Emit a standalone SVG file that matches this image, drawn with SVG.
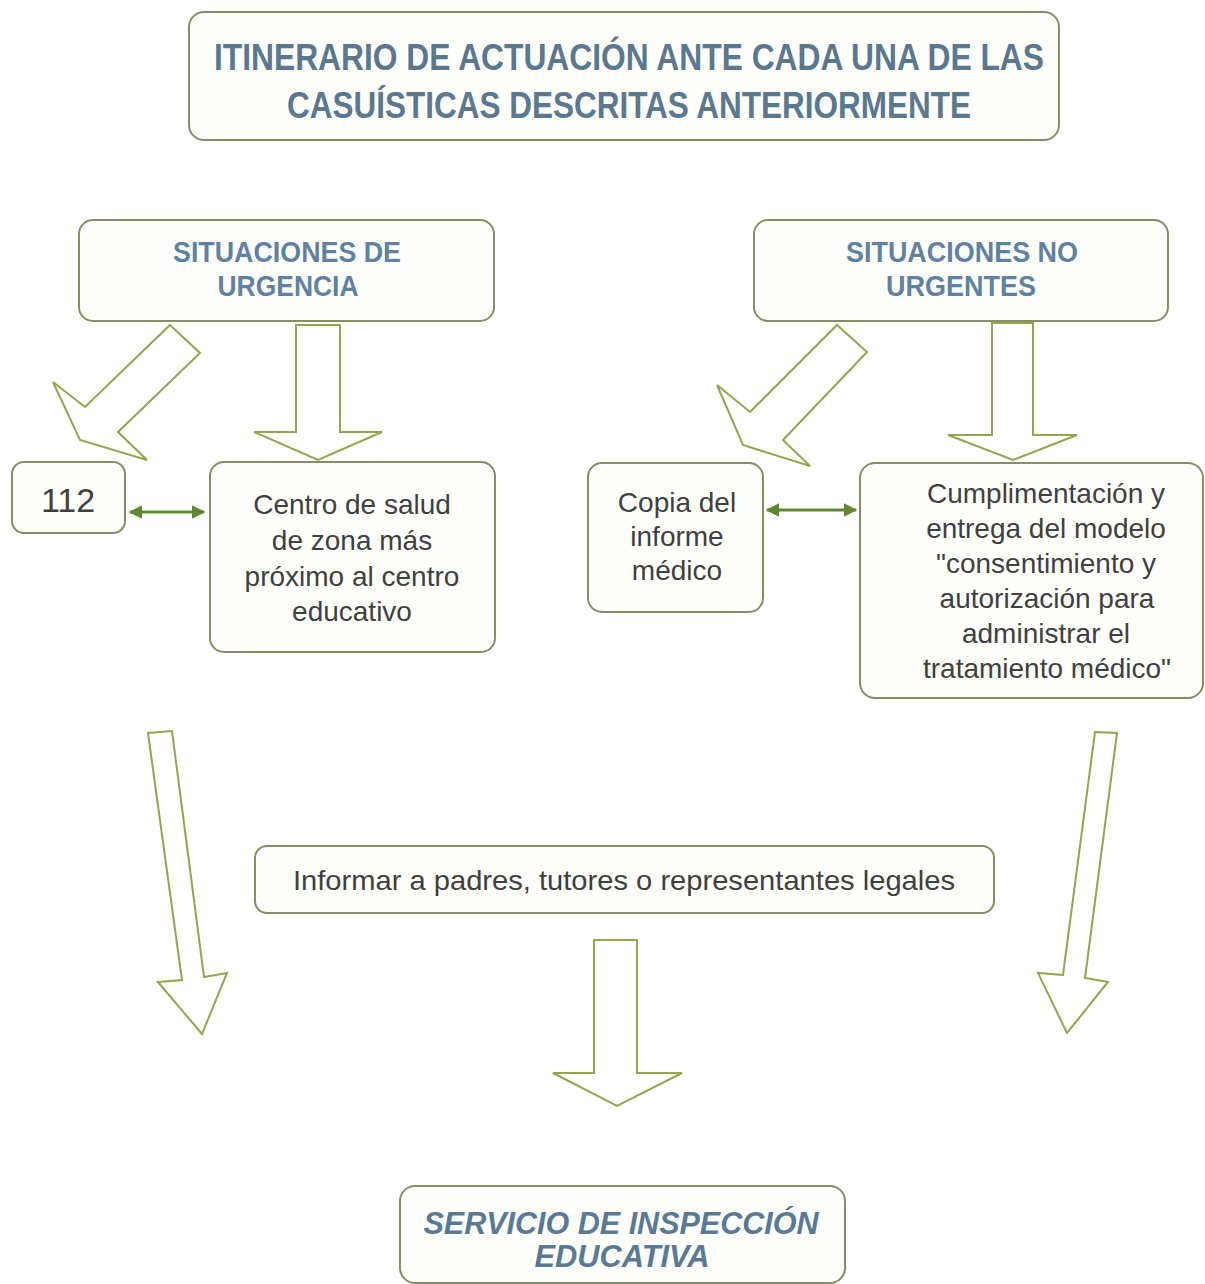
<svg xmlns="http://www.w3.org/2000/svg" width="1205" height="1284" viewBox="0 0 1205 1284">
  <style>
    .box { fill: #fefefa; stroke: #868e62; stroke-width: 2; }
    .blk { fill: #ffffff; stroke: #98a34c; stroke-width: 2; stroke-linejoin: miter; }
    .dbl { fill: none; stroke: #5f8a32; stroke-width: 3; }
    .title { font-family: "Liberation Sans", Arial, sans-serif; font-weight: bold; font-size: 36px; fill: #5a7890; text-anchor: middle; }
    .head { font-family: "Liberation Sans", Arial, sans-serif; font-weight: bold; font-size: 29px; fill: #5f82a0; text-anchor: middle; }
    .body { font-family: "Liberation Sans", Arial, sans-serif; font-size: 28px; fill: #404040; text-anchor: middle; }
    .serv { font-family: "Liberation Sans", Arial, sans-serif; font-weight: bold; font-style: italic; font-size: 31px; fill: #587a96; text-anchor: middle; }
  </style>
  <defs>
    <marker id="ah" viewBox="0 0 10 10" refX="9" refY="5" markerWidth="4.5" markerHeight="4.5" orient="auto-start-reverse" markerUnits="strokeWidth">
      <path d="M0,0 L10,5 L0,10 z" fill="#5f8a32"/>
    </marker>
  </defs>
  <rect width="1205" height="1284" fill="#ffffff"/>

  <g id="title">
    <rect class="box" x="189" y="12" width="870" height="128" rx="15"/>
    <text class="title" x="629" y="70" textLength="830" lengthAdjust="spacingAndGlyphs">ITINERARIO DE ACTUACIÓN ANTE CADA UNA DE LAS</text>
    <text class="title" x="629" y="118" textLength="684" lengthAdjust="spacingAndGlyphs">CASUÍSTICAS DESCRITAS ANTERIORMENTE</text>
  </g>

  <g id="urgencia">
    <rect class="box" x="79" y="220" width="415" height="101" rx="14"/>
    <text class="head" x="287" y="262" textLength="228" lengthAdjust="spacingAndGlyphs">SITUACIONES DE</text>
    <text class="head" x="288" y="296" textLength="141" lengthAdjust="spacingAndGlyphs">URGENCIA</text>
  </g>

  <g id="no-urgentes">
    <rect class="box" x="754" y="220" width="414" height="101" rx="14"/>
    <text class="head" x="962" y="262" textLength="232" lengthAdjust="spacingAndGlyphs">SITUACIONES NO</text>
    <text class="head" x="961" y="296" textLength="150" lengthAdjust="spacingAndGlyphs">URGENTES</text>
  </g>

  <g id="n112">
    <rect class="box" x="12" y="462" width="113" height="71" rx="12"/>
    <text class="body" x="68" y="512" style="font-size:34px">112</text>
  </g>

  <g id="centro-salud">
    <rect class="box" x="210" y="462" width="285" height="190" rx="14"/>
    <text class="body" x="352" y="514">Centro de salud</text>
    <text class="body" x="352" y="550">de zona más</text>
    <text class="body" x="352" y="586">próximo al centro</text>
    <text class="body" x="352" y="621">educativo</text>
  </g>

  <g id="copia-informe">
    <rect class="box" x="588" y="463" width="175" height="149" rx="14"/>
    <text class="body" x="677" y="512">Copia del</text>
    <text class="body" x="677" y="546">informe</text>
    <text class="body" x="677" y="580">médico</text>
  </g>

  <g id="cumplimentacion">
    <rect class="box" x="860" y="463" width="343" height="235" rx="15"/>
    <text class="body" x="1046" y="503">Cumplimentación y</text>
    <text class="body" x="1046" y="538">entrega del modelo</text>
    <text class="body" x="1046" y="573">"consentimiento y</text>
    <text class="body" x="1047" y="608">autorización para</text>
    <text class="body" x="1046" y="643">administrar el</text>
    <text class="body" x="1047" y="678">tratamiento médico"</text>
  </g>

  <g id="informar">
    <rect class="box" x="255" y="846" width="739" height="67" rx="12"/>
    <text class="body" x="624" y="890" textLength="662" lengthAdjust="spacingAndGlyphs">Informar a padres, tutores o representantes legales</text>
  </g>

  <g id="servicio">
    <rect class="box" x="400" y="1186" width="445" height="97" rx="15"/>
    <text class="serv" x="621" y="1234" textLength="395" lengthAdjust="spacingAndGlyphs">SERVICIO DE INSPECCIÓN</text>
    <text class="serv" x="622" y="1267" textLength="175" lengthAdjust="spacingAndGlyphs">EDUCATIVA</text>
  </g>

  <g id="connectors">
    <polygon class="blk" points="170,325 200,353 118,432 147,460 80,440 53,382 85,407"/>
    <polygon class="blk" points="296,325 340,325 340,432 382,432 318,460 254,432 296,432"/>
    <polygon class="blk" points="837,325 867,352 783,440 810,466 743,445 717,385 750,412"/>
    <polygon class="blk" points="992,323 1033,323 1033,435 1077,435 1013,460 948,435 992,435"/>
    <polygon class="blk" points="148,733 172,731 204,977 227,973 202,1034 158,982 182,980"/>
    <polygon class="blk" points="1095,732 1117,733 1085,978 1108,982 1067,1033 1038,973 1063,975"/>
    <polygon class="blk" points="594,940 637,940 637,1073 682,1073 617,1106 553,1073 594,1073"/>
    <line class="dbl" x1="130" y1="512" x2="204" y2="512" marker-start="url(#ah)" marker-end="url(#ah)"/>
    <line class="dbl" x1="767" y1="510" x2="856" y2="510" marker-start="url(#ah)" marker-end="url(#ah)"/>
  </g>
</svg>
